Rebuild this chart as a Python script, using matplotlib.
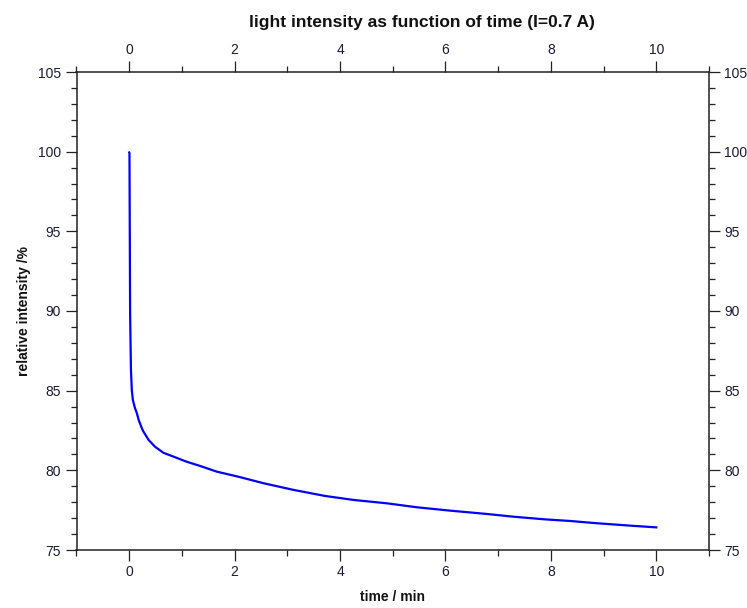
import matplotlib
matplotlib.use("Agg")
import matplotlib.pyplot as plt
from matplotlib.ticker import MultipleLocator

# data
time_min = [0.0, 0.005, 0.017, 0.033, 0.05, 0.07, 0.11, 0.146, 0.18, 0.24, 0.27,
            0.37, 0.49, 0.65, 0.84, 1.09, 1.35, 1.66, 2.07, 2.55, 3.12, 3.72,
            4.26, 4.89, 5.46, 6.09, 6.79, 7.29, 7.86, 8.37, 8.87, 9.5, 10.0]
intensity = [99.95, 99.9, 89.9, 86.3, 85.0, 84.4, 83.9, 83.58, 83.16, 82.64, 82.43,
             81.9, 81.48, 81.1, 80.86, 80.54, 80.27, 79.92, 79.6, 79.19, 78.77, 78.39,
             78.14, 77.93, 77.68, 77.47, 77.26, 77.09, 76.93, 76.82, 76.68, 76.53, 76.42]

title = "light intensity as function of time (I=0.7 A)"
xlabel = "time / min"
ylabel = "relative intensity /%"

plt.rcParams['font.family'] = ['Liberation Sans', 'DejaVu Sans']

W, H = 747, 608
fig = plt.figure(figsize=(W / 100, H / 100), dpi=100)
ax = fig.add_axes([76.5 / W, 1 - 550 / H, (709 - 76.5) / W, (550 - 72) / H])

ax.plot(time_min, intensity, color='#0000ff', lw=1.6)

ax.set_xlim(-1, 11)
ax.set_ylim(75, 105)
ax.xaxis.set_major_locator(MultipleLocator(2))
ax.xaxis.set_minor_locator(MultipleLocator(1))
ax.yaxis.set_major_locator(MultipleLocator(5))
ax.yaxis.set_minor_locator(MultipleLocator(1))

ax.tick_params(which='both', direction='out', top=True, right=True,
               labeltop=True, labelright=True, colors='#222222',
               labelcolor='#1a1a3a', labelsize=10, width=0.9)
ax.tick_params(which='major', length=8, pad=3)
ax.tick_params(which='minor', length=4.5)

for s in ax.spines.values():
    s.set_linewidth(1.1)
    s.set_color('#222222')

fig.text(422 / W, 1 - 22 / H, title, fontsize=12.5, fontweight='bold',
         color='#111111', ha='center', va='center')
ax.set_xlabel(xlabel, fontsize=10, fontweight='bold', labelpad=8, color='#111111')
ax.set_ylabel(ylabel, fontsize=10, fontweight='bold', labelpad=5, color='#111111')

fig.savefig("out.png", dpi=100)
